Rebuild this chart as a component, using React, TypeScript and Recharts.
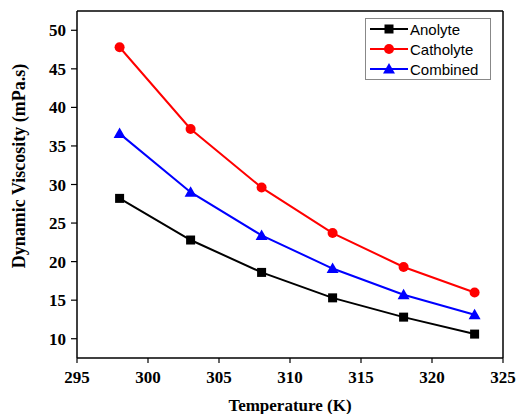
import React from "react";
import { LineChart, Line, XAxis, YAxis, ReferenceLine } from "recharts";

const temperatures = [298, 303, 308, 313, 318, 323];
const anolyte = [28.2, 22.8, 18.6, 15.3, 12.8, 10.6];
const catholyte = [47.8, 37.2, 29.6, 23.7, 19.3, 16.0];
const combined = [36.6, 29.0, 23.4, 19.1, 15.7, 13.1];

const xTicks = [295, 300, 305, 310, 315, 320, 325];
const yTicks = [10, 15, 20, 25, 30, 35, 40, 45, 50];

const data = temperatures.map((t, i) => ({
  t,
  anolyte: anolyte[i],
  catholyte: catholyte[i],
  combined: combined[i],
}));

const serif = "Liberation Serif, Times New Roman, serif";
const sans = "Liberation Sans, Arial, sans-serif";

const Marker = ({ kind, cx, cy, color }: any) => {
  if (cx == null || cy == null) return null;
  if (kind === "square") {
    return <rect x={cx - 4.5} y={cy - 4.5} width={9} height={9} fill={color} />;
  }
  if (kind === "circle") {
    return <circle cx={cx} cy={cy} r={5} fill={color} />;
  }
  return (
    <polygon
      points={`${cx},${cy - 6} ${cx - 6},${cy + 4.5} ${cx + 6},${cy + 4.5}`}
      fill={color}
    />
  );
};

const series = [
  { key: "anolyte", name: "Anolyte", color: "#000000", kind: "square" },
  { key: "catholyte", name: "Catholyte", color: "#ff0000", kind: "circle" },
  { key: "combined", name: "Combined", color: "#0000ff", kind: "triangle" },
];

const XTick = ({ x, y, payload }: any) => (
  <text
    x={x}
    y={y}
    dy="0.71em"
    textAnchor="middle"
    fontFamily={serif}
    fontSize={17}
    fontWeight="bold"
    fill="#000"
  >
    {payload.value}
  </text>
);

const YTick = ({ x, y, payload }: any) => (
  <text
    x={x}
    y={y}
    dy="0.355em"
    textAnchor="end"
    fontFamily={serif}
    fontSize={17}
    fontWeight="bold"
    fill="#000"
  >
    {payload.value}
  </text>
);

const LegendBox = () => (
  <div
    style={{
      position: "absolute",
      left: 365,
      top: 18,
      border: "1px solid #888",
      background: "#fff",
      padding: "0px 3px 0px 3px",
      width: 118,
    }}
  >
    {series.map((s) => (
      <div
        key={s.key}
        style={{ display: "flex", alignItems: "center", height: 20 }}
      >
        <svg width={40} height={14}>
          <line x1={1} y1={7} x2={39} y2={7} stroke={s.color} strokeWidth={2} />
          <Marker kind={s.kind} cx={20} cy={7} color={s.color} />
        </svg>
        <span
          style={{
            fontFamily: sans,
            fontSize: 15,
            color: "#000",
            marginLeft: 1,
          }}
        >
          {s.name}
        </span>
      </div>
    ))}
  </div>
);

export default function App() {
  return (
    <div
      style={{
        position: "absolute",
        left: 0,
        top: 0,
        width: 519,
        height: 414,
        background: "#fff",
      }}
    >
      <LineChart
        width={519}
        height={414}
        data={data}
        margin={{ top: 11, right: 16, left: 0, bottom: 0 }}
      >
        <XAxis
          dataKey="t"
          type="number"
          domain={[295, 325]}
          ticks={xTicks}
          height={56}
          tick={<XTick />}
          tickSize={5}
          tickMargin={8}
          axisLine={{ stroke: "#000", strokeWidth: 1.5 }}
          tickLine={{ stroke: "#000", strokeWidth: 1.2 }}
          label={{
            content: () => (
              <text
                x={290}
                y={411}
                textAnchor="middle"
                fontFamily={serif}
                fontSize={17}
                fontWeight="bold"
                fill="#000"
              >
                Temperature (K)
              </text>
            ),
          }}
        />
        <YAxis
          type="number"
          domain={[7.5, 52.5]}
          ticks={yTicks}
          width={77}
          tick={<YTick />}
          tickSize={6}
          tickMargin={5}
          axisLine={{ stroke: "#000", strokeWidth: 1.5 }}
          tickLine={{ stroke: "#000", strokeWidth: 1.2 }}
          label={{
            content: () => (
              <text
                x={19}
                y={166}
                transform="rotate(-90, 19, 166)"
                textAnchor="middle"
                dominantBaseline="central"
                fontFamily={serif}
                fontSize={18}
                fontWeight="bold"
                fill="#000"
              >
                Dynamic Viscosity (mPa.s)
              </text>
            ),
          }}
        />
        <ReferenceLine y={52.5} stroke="#000" strokeWidth={1.5} />
        <ReferenceLine x={325} stroke="#000" strokeWidth={1.5} />
        {series.map((s) => (
          <Line
            key={s.key}
            dataKey={s.key}
            name={s.name}
            type="linear"
            stroke={s.color}
            strokeWidth={2}
            isAnimationActive={false}
            dot={(p: any) => (
              <Marker
                key={`${s.key}-${p.index}`}
                kind={s.kind}
                cx={p.cx}
                cy={p.cy}
                color={s.color}
              />
            )}
            activeDot={false}
          />
        ))}
      </LineChart>
      <LegendBox />
    </div>
  );
}
